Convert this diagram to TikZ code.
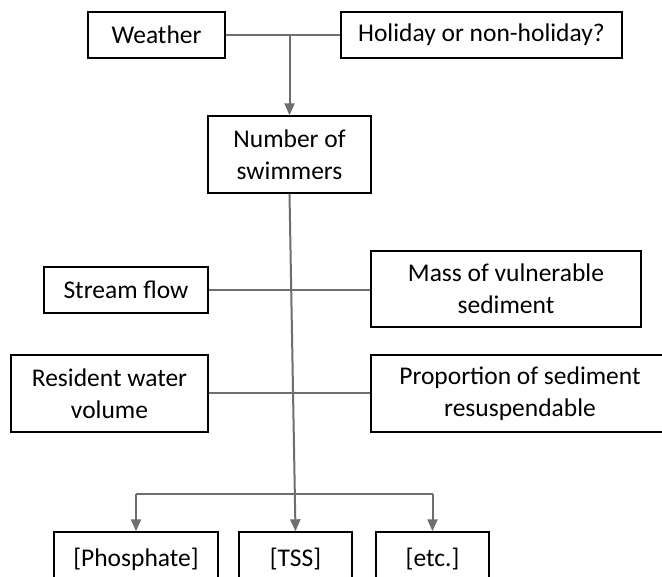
\documentclass[tikz,border=0pt]{standalone}
\usepackage{fontspec}
\setmainfont{Carlito}
\usetikzlibrary{arrows.meta}
\definecolor{linegray}{RGB}{110,110,110}
\tikzset{
  box/.style={draw=black, line width=1.4pt, rectangle, align=center, inner sep=0pt,
    font=\fontsize{25.5}{32}\selectfont},
  link/.style={draw=linegray, line width=2pt},
  arrowlink/.style={link, -{Triangle[length=12pt,width=10pt]}},
}
\begin{document}
\begin{tikzpicture}[x=1pt,y=-1pt]
\clip (0,0) rectangle (662,577);
\fill[white] (0,0) rectangle (662,577);
\node[box, minimum width=137pt, minimum height=46pt] (weather) at (156.5,35) {Weather};
\node[box, minimum width=281pt, minimum height=46pt] (holiday) at (481.5,35) {Holiday or non-holiday?};
\node[box, minimum width=163pt, minimum height=77pt] (number) at (289.5,154.5) {Number of\\swimmers};
\node[box, minimum width=164pt, minimum height=46pt] (stream) at (126,290) {Stream flow};
\node[box, minimum width=270pt, minimum height=76pt] (mass) at (506,289) {Mass of vulnerable\\sediment};
\node[box, minimum width=197pt, minimum height=77pt] (resident) at (109.5,393.5) {Resident water\\volume};
\node[box, minimum width=298pt, minimum height=77pt] (proportion) at (520,393.5) {Proportion of sediment\\resuspendable};
\node[box, minimum width=164pt, minimum height=54pt] (phosphate) at (136,559) {[Phosphate]};
\node[box, minimum width=113pt, minimum height=54pt] (tss) at (295.5,559) {[TSS]};
\node[box, minimum width=113pt, minimum height=54pt] (etc) at (432.5,559) {[etc.]};
\coordinate (j1) at (289.5,35);
\coordinate (bl) at (136,494);
\coordinate (br) at (432.5,494);
\draw[link] (weather.east) -- (holiday.west);
\draw[arrowlink] (j1) -- (number.north);
\draw[arrowlink] (number.south) -- (tss.north);
\draw[link] (stream.east) -- (stream.east -| mass.west);
\draw[link] (resident.east) -- (resident.east -| proportion.west);
\draw[link] (bl) -- (br);
\draw[arrowlink] (bl) -- (phosphate.north);
\draw[arrowlink] (br) -- (etc.north);
\end{tikzpicture}
\end{document}
